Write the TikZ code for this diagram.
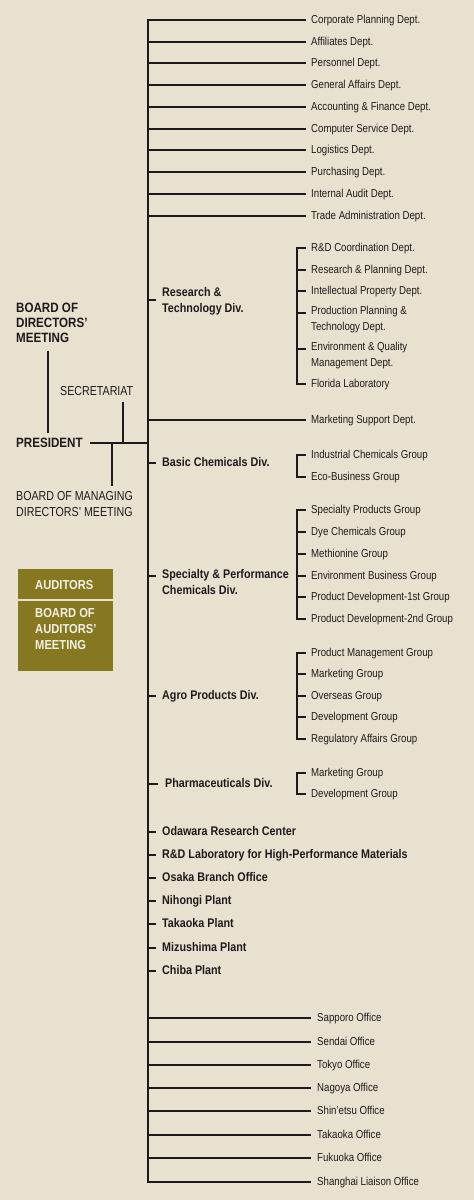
\documentclass[tikz,border=0pt]{standalone}
\usepackage{fontspec}
\setmainfont{Liberation Sans}
\newfontfamily\cnd{Liberation Sans}[FakeStretch=0.84]
\newfontfamily\cndb{Liberation Sans}[FakeStretch=0.86]
\newfontfamily\cndc{Liberation Sans}[FakeStretch=0.82]
\definecolor{bg}{HTML}{E9E1CF}
\definecolor{ink}{HTML}{1E1A1B}
\definecolor{olivebox}{HTML}{857820}
\definecolor{boxtxt}{HTML}{F4F1E6}
\begin{document}
\begin{tikzpicture}[x=1pt,y=-1pt,
  conn/.style={draw=ink, line width=1.5pt, line cap=rect},
  spineline/.style={draw=ink, line width=2pt, line cap=rect},
  dept/.style={anchor=west, inner xsep=6pt, inner ysep=0pt, text=ink, align=left,
    font=\cnd\fontsize{11.5}{16}\selectfont, execute at begin node=\strut},
  office/.style={dept, inner xsep=7pt},
  divn/.style={anchor=west, inner xsep=7pt, inner ysep=0pt, text=ink, align=left,
    font=\cndb\bfseries\fontsize{12.5}{16}\selectfont, execute at begin node=\strut},
  toplabel/.style={anchor=west, inner sep=0pt, text=ink, align=left,
    font=\cndb\bfseries\fontsize{13.5}{15}\selectfont, execute at begin node=\strut},
  toplabelr/.style={anchor=west, inner sep=0pt, text=ink, align=left,
    font=\cndc\fontsize{13}{16}\selectfont, execute at begin node=\strut},
  audtext/.style={anchor=west, inner sep=0pt, text=boxtxt, align=left,
    font=\cndb\bfseries\fontsize{13}{16}\selectfont, execute at begin node=\strut},
]
\useasboundingbox (0,0) rectangle (474,1200);
\fill[bg] (0,0) rectangle (474,1200);

\coordinate (spT) at (148,20);
\coordinate (spB) at (148,1182);
\coordinate (brx) at (297,0);
\draw[spineline] (spT) -- (spB);

% ---- top departments
\foreach \t/\y [count=\i from 0] in {Corporate Planning Dept./20,Affiliates Dept./42,Personnel Dept./63,General Affairs Dept./85,Accounting \& Finance Dept./107,Computer Service Dept./129,Logistics Dept./150,Purchasing Dept./172,Internal Audit Dept./194,Trade Administration Dept./216}
  \node[dept] (d\i) at (305,\y) {\t};
\foreach \i in {0,...,9}
  \draw[conn] (d\i.west -| spT) -- (d\i.west);

% ---- Research & Technology Div.
\node[divn] (rtd) at (155,302) {Research \&\\\strut Technology Div.};
\draw[conn] ([yshift=2pt]rtd.west -| spT) -- ([yshift=2pt]rtd.west);
\node[dept] (rt1) at (305,248) {R\&D Coordination Dept.};
\node[dept] (rt2) at (305,270) {Research \& Planning Dept.};
\node[dept] (rt3) at (305,291) {Intellectual Property Dept.};
\node[dept] (rt4) at (305,321) {Production Planning \&\\\strut Technology Dept.};
\node[dept] (rt5) at (305,357) {Environment \& Quality\\\strut Management Dept.};
\node[dept] (rt6) at (305,384) {Florida Laboratory};
\draw[conn] (rt1.west -| brx) -- (rt6.west -| brx);
\foreach \n in {rt1,rt2,rt3,rt6}
  \draw[conn] (\n.west -| brx) -- (\n.west);
\foreach \n in {rt4,rt5}
  \draw[conn] ([yshift=8pt]\n.west -| brx) -- ([yshift=8pt]\n.west);

% ---- Marketing Support
\node[dept] (ms) at (305,420) {Marketing Support Dept.};
\draw[conn] (ms.west -| spT) -- (ms.west);

% ---- left side
\node[toplabel] (bd) at (16,325.5) {BOARD OF\\\strut DIRECTORS’\\\strut MEETING};
\node[toplabel] (pres) at (16,444.5) {PRESIDENT};
\node[toplabelr] (sec) at (60,392.5) {SECRETARIAT};
\node[toplabelr] (bm) at (16,506.5) {BOARD OF MANAGING\\\strut DIRECTORS’ MEETING};
\coordinate (secj) at (123,443);
\coordinate (bmj) at (112,443);
\coordinate (bdj) at (48,443);
\draw[draw=ink, line width=2pt] (90,443) -- (secj) -- (bmj) -- (spT |- secj);
\draw[draw=ink, line width=1.5pt, shorten <=1pt] (secj |- sec.south) -- (secj);
\draw[draw=ink, line width=1.5pt, shorten >=5pt] (bmj) -- (bmj |- bm.north);
\draw[draw=ink, line width=1.3pt, shorten <=3pt, shorten >=4pt] (bdj |- bd.south) -- (bdj |- pres.north);

% ---- auditors
\fill[olivebox] (18,569) rectangle (113,598.5);
\fill[olivebox] (18,600.5) rectangle (113,671);
\node[audtext] (aud) at (35,586) {AUDITORS};
\node[audtext] (baud) at (35,631) {BOARD OF\\\strut AUDITORS’\\\strut MEETING};

% ---- Basic Chemicals
\node[divn] (bcd) at (155,463) {Basic Chemicals Div.};
\draw[conn] (bcd.west -| spT) -- (bcd.west);
\node[dept] (bc1) at (305,455) {Industrial Chemicals Group};
\node[dept] (bc2) at (305,477) {Eco-Business Group};
\draw[conn] (bc1.west -| brx) -- (bc2.west -| brx);
\foreach \n in {bc1,bc2}
  \draw[conn] (\n.west -| brx) -- (\n.west);

% ---- Specialty & Performance
\node[divn] (spd) at (155,584) {Specialty \& Performance\\\strut Chemicals Div.};
\draw[conn] ([yshift=8pt]spd.west -| spT) -- ([yshift=8pt]spd.west);
\foreach \t/\y [count=\i] in {Specialty Products Group/510,Dye Chemicals Group/532,Methionine Group/554,Environment Business Group/576,Product Development-1st Group/597,Product Development-2nd Group/619}
  \node[dept] (sp\i) at (305,\y) {\t};
\draw[conn] (sp1.west -| brx) -- (sp6.west -| brx);
\foreach \i in {1,...,6}
  \draw[conn] (sp\i.west -| brx) -- (sp\i.west);

% ---- Agro Products
\node[divn] (agd) at (155,696) {Agro Products Div.};
\draw[conn] (agd.west -| spT) -- (agd.west);
\foreach \t/\y [count=\i] in {Product Management Group/653,Marketing Group/674,Overseas Group/696,Development Group/717,Regulatory Affairs Group/739}
  \node[dept] (ag\i) at (305,\y) {\t};
\draw[conn] (ag1.west -| brx) -- (ag5.west -| brx);
\foreach \i in {1,...,5}
  \draw[conn] (ag\i.west -| brx) -- (ag\i.west);

% ---- Pharmaceuticals
\node[divn, inner xsep=8pt] (phd) at (157,784) {Pharmaceuticals Div.};
\draw[conn] (phd.west -| spT) -- (phd.west);
\node[dept] (ph1) at (305,773) {Marketing Group};
\node[dept] (ph2) at (305,794) {Development Group};
\draw[conn] (ph1.west -| brx) -- (ph2.west -| brx);
\foreach \n in {ph1,ph2}
  \draw[conn] (\n.west -| brx) -- (\n.west);

% ---- bold units
\foreach \t/\y [count=\i] in {Odawara Research Center/832,R\&D Laboratory for High-Performance Materials/855,Osaka Branch Office/878,Nihongi Plant/901,Takaoka Plant/924,Mizushima Plant/948,Chiba Plant/971}
  \node[divn] (bu\i) at (155,\y) {\t};
\foreach \i in {1,...,7}
  \draw[conn] (bu\i.west -| spT) -- (bu\i.west);

% ---- offices
\foreach \t/\y [count=\i] in {Sapporo Office/1018,Sendai Office/1042,Tokyo Office/1065,Nagoya Office/1088,Shin’etsu Office/1111,Takaoka Office/1135,Fukuoka Office/1158,Shanghai Liaison Office/1182}
  \node[office] (of\i) at (310,\y) {\t};
\foreach \i in {1,...,8}
  \draw[conn] (of\i.west -| spT) -- (of\i.west);
\end{tikzpicture}
\end{document}
